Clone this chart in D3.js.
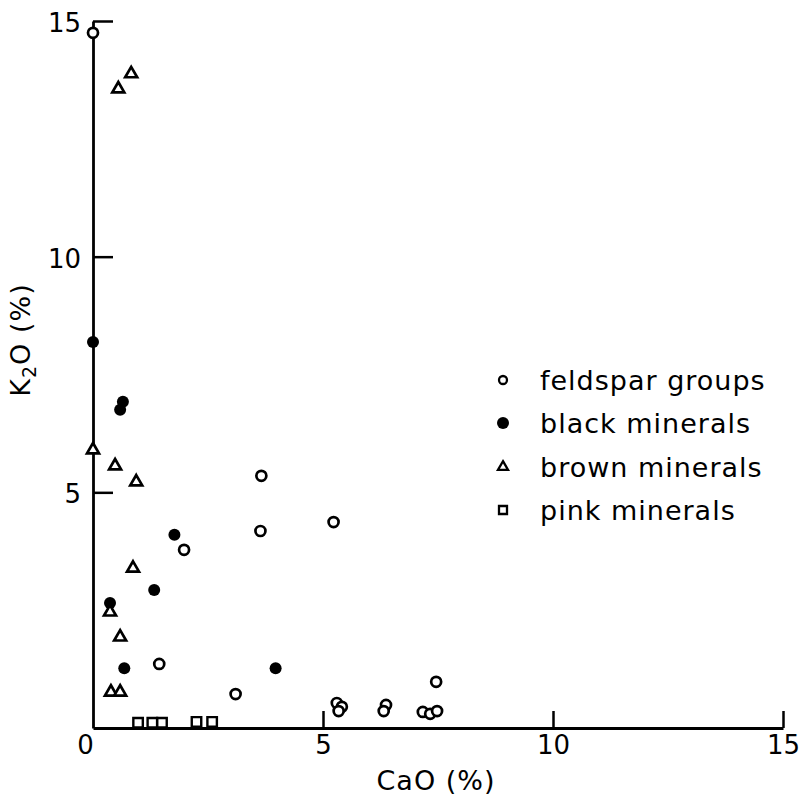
<!DOCTYPE html>
<html>
<head>
<meta charset="utf-8">
<script src="https://cdn.jsdelivr.net/npm/d3@7"></script>
<style>
  body { margin: 0; background: #fff; }
  svg { display: block; font-family: "DejaVu Sans", sans-serif; }
</style>
</head>
<body>
<div id="chart"></div>
<script>
// CaO vs K2O
const feldsparCaO = [0.0, 3.66, 3.64, 5.23, 1.98, 1.44, 3.10, 5.30, 5.41, 5.34, 6.37, 6.32, 7.46, 7.17, 7.33, 7.48];
const feldsparK2O = [14.75, 5.35, 4.18, 4.37, 3.78, 1.36, 0.72, 0.53, 0.45, 0.36, 0.49, 0.36, 0.98, 0.34, 0.30, 0.36];

const blackCaO = [0.0, 0.65, 0.59, 1.77, 1.33, 0.37, 0.68, 3.97];
const blackK2O = [8.19, 6.92, 6.75, 4.10, 2.93, 2.65, 1.27, 1.27];

const brownCaO = [0.83, 0.55, 0.0, 0.48, 0.94, 0.87, 0.37, 0.59, 0.39, 0.59];
const brownK2O = [13.88, 13.56, 5.9, 5.56, 5.22, 3.39, 2.46, 1.93, 0.76, 0.76];

const pinkCaO = [0.98, 1.29, 1.50, 2.25, 2.59];
const pinkK2O = [0.11, 0.11, 0.11, 0.13, 0.13];

const legendLabels = ["feldspar groups", "black minerals", "brown minerals", "pink minerals"];
const xTicks = [0, 5, 10, 15];
const yTicks = [5, 10, 15];

const W = 800, H = 798;

const svg = d3.select("#chart")
    .append("svg")
    .attr("width", W)
    .attr("height", H);

const x = d3.scaleLinear().domain([0, 15]).range([93, 783]);
const y = d3.scaleLinear().domain([0, 15]).range([728, 21]);

// axes: ticks point into the plot
const xAxis = svg.append("g")
    .attr("transform", `translate(0,${y(0)})`)
    .call(d3.axisBottom(x).tickValues(xTicks).tickSizeInner(-17).tickSizeOuter(0).tickPadding(8).tickFormat(d3.format("d")));

const yAxis = svg.append("g")
    .attr("transform", `translate(${x(0)},0)`)
    .call(d3.axisLeft(y).tickValues(yTicks).tickSizeInner(-20).tickSizeOuter(0).tickPadding(12).tickFormat(d3.format("d")));

[xAxis, yAxis].forEach(g => {
    g.select(".domain").attr("stroke", "#000").attr("stroke-width", 2.8);
    g.selectAll(".tick line").attr("stroke", "#000").attr("stroke-width", 2.5);
    g.selectAll(".tick text")
        .attr("fill", "#000")
        .style("font-size", "26px")
        .style("font-family", "'DejaVu Sans', sans-serif");
});
xAxis.selectAll(".tick").filter(d => d === 0).select("line").remove();
xAxis.selectAll(".tick").filter(d => d === 0).select("text").attr("dx", -8);
yAxis.selectAll(".tick text").attr("dy", "0.4em");

// axis titles
svg.append("text")
    .attr("x", 436)
    .attr("y", 790)
    .attr("text-anchor", "middle")
    .style("font-size", "27px")
    .style("letter-spacing", "1px")
    .text("CaO (%)");

const yt = svg.append("text")
    .attr("transform", "translate(30,340) rotate(-90)")
    .attr("text-anchor", "middle")
    .style("font-size", "27px")
    .style("letter-spacing", "1px");
yt.append("tspan").text("K");
yt.append("tspan").attr("dy", 6).style("font-size", "19px").text("2");
yt.append("tspan").attr("dy", -6).text("O (%)");

// data layers
const pts = (xs, ys) => xs.map((v, i) => ({cao: v, k2o: ys[i]}));

svg.append("g").selectAll("circle")
    .data(pts(feldsparCaO, feldsparK2O))
    .enter().append("circle")
    .attr("cx", d => x(d.cao))
    .attr("cy", d => y(d.k2o))
    .attr("r", 5)
    .attr("fill", "#fff")
    .attr("stroke", "#000")
    .attr("stroke-width", 2.7);

svg.append("g").selectAll("circle")
    .data(pts(blackCaO, blackK2O))
    .enter().append("circle")
    .attr("cx", d => x(d.cao))
    .attr("cy", d => y(d.k2o))
    .attr("r", 6)
    .attr("fill", "#000");

const tri = d3.symbol().type(d3.symbolTriangle).size(62);
svg.append("g").selectAll("path")
    .data(pts(brownCaO, brownK2O))
    .enter().append("path")
    .attr("d", tri)
    .attr("transform", d => `translate(${x(d.cao)},${y(d.k2o)})`)
    .attr("fill", "#fff")
    .attr("stroke", "#000")
    .attr("stroke-width", 2.7)
    .attr("stroke-linejoin", "miter");

const sq = d3.symbol().type(d3.symbolSquare).size(90);
svg.append("g").selectAll("path")
    .data(pts(pinkCaO, pinkK2O))
    .enter().append("path")
    .attr("d", sq)
    .attr("transform", d => `translate(${x(d.cao)},${y(d.k2o)})`)
    .attr("fill", "#fff")
    .attr("stroke", "#000")
    .attr("stroke-width", 2.4);

// legend
const legendY = [380, 423, 467, 510];
const lg = svg.append("g");
legendLabels.forEach((lab, i) => {
    const row = lg.append("g").attr("transform", `translate(503,${legendY[i]})`);
    if (i === 0) row.append("circle").attr("r", 4).attr("fill", "#fff").attr("stroke", "#000").attr("stroke-width", 2.3);
    if (i === 1) row.append("circle").attr("r", 6).attr("fill", "#000");
    if (i === 2) row.append("path").attr("d", d3.symbol().type(d3.symbolTriangle).size(44)).attr("fill", "#fff").attr("stroke", "#000").attr("stroke-width", 2.3);
    if (i === 3) row.append("path").attr("d", d3.symbol().type(d3.symbolSquare).size(64)).attr("fill", "#fff").attr("stroke", "#000").attr("stroke-width", 2.3);
    row.append("text")
        .attr("x", 37)
        .attr("dy", "0.36em")
        .style("font-size", "27px")
        .style("letter-spacing", "1px")
        .text(lab);
});
</script>
</body>
</html>
